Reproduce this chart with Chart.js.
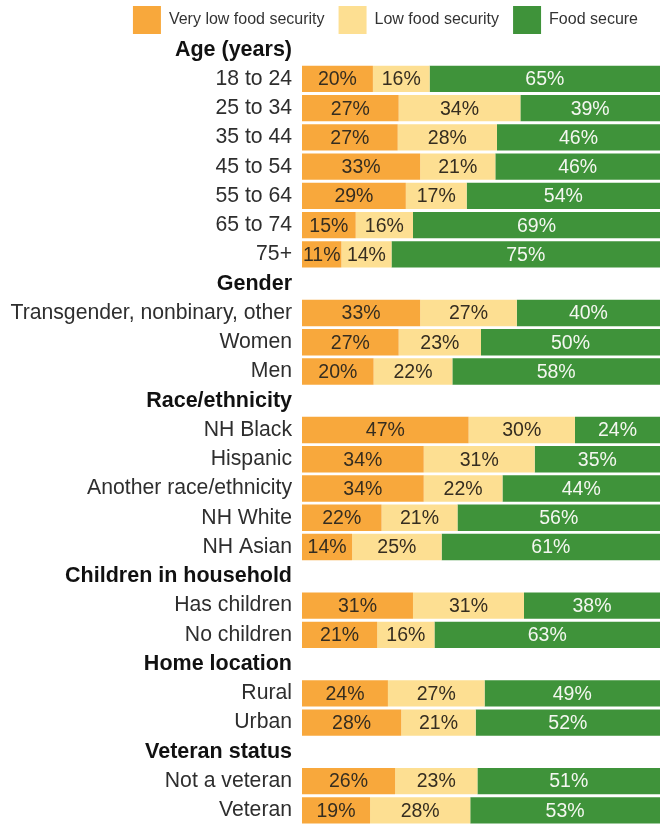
<!DOCTYPE html>
<html>
<head>
<meta charset="utf-8">
<script src="https://cdn.jsdelivr.net/npm/chart.js@4.4.1/dist/chart.umd.min.js"></script>
<style>
  html, body { margin: 0; padding: 0; background: #fff; }
  #wrap { width: 660px; height: 825px; }
</style>
</head>
<body>
<div id="wrap"><canvas id="foodChart"></canvas></div>
<script>
// Row labels (section headers have no bars)
const rowLabels = [
    'Age (years)', '18 to 24', '25 to 34', '35 to 44', '45 to 54', '55 to 64', '65 to 74', '75+',
    'Gender', 'Transgender, nonbinary, other', 'Women', 'Men',
    'Race/ethnicity', 'NH Black', 'Hispanic', 'Another race/ethnicity', 'NH White', 'NH Asian',
    'Children in household', 'Has children', 'No children',
    'Home location', 'Rural', 'Urban',
    'Veteran status', 'Not a veteran', 'Veteran'
];
const headerRows = ['Age (years)', 'Gender', 'Race/ethnicity', 'Children in household', 'Home location', 'Veteran status'];

const seriesNames = ['Very low food security', 'Low food security', 'Food secure'];
const veryLow = [null, 20, 27, 27, 33, 29, 15, 11, null, 33, 27, 20, null, 47, 34, 34, 22, 14, null, 31, 21, null, 24, 28, null, 26, 19];
const low     = [null, 16, 34, 28, 21, 17, 16, 14, null, 27, 23, 22, null, 30, 31, 22, 21, 25, null, 31, 16, null, 27, 21, null, 23, 28];
const secure  = [null, 65, 39, 46, 46, 54, 69, 75, null, 40, 50, 58, null, 24, 35, 44, 56, 61, null, 38, 63, null, 49, 52, null, 51, 53];

const rawSeries = [veryLow, low, secure];
const barColors = ['#f8a83c', '#fddf92', '#3f933a'];
const labelColors = ['#352d20', '#352d20', '#f4f7f0'];
const FONT = '"Liberation Sans", Arial, sans-serif';

// rounded shares don't always add to 100, so scale each row to fill the bar
const rowSums = rowLabels.map((_, i) => rawSeries.reduce((s, arr) => s + (arr[i] || 0), 0));
const toShare = arr => arr.map((v, i) => v == null ? null : v / rowSums[i] * 100);

// draws the percentage text centered in each segment
const segmentLabels = {
    id: 'segmentLabels',
    afterDatasetsDraw(chart) {
        const ctx = chart.ctx;
        ctx.save();
        ctx.font = '19.5px ' + FONT;
        ctx.textAlign = 'center';
        ctx.textBaseline = 'middle';
        chart.data.datasets.forEach((ds, di) => {
            const meta = chart.getDatasetMeta(di);
            meta.data.forEach((bar, i) => {
                const v = rawSeries[di][i];
                if (v == null) return;
                ctx.fillStyle = labelColors[di];
                ctx.fillText(v + '%', (bar.x + bar.base) / 2, bar.y + 1);
            });
        });
        ctx.restore();
    }
};

// trim the legend's reserved height and nudge it in from the right edge
const legendTweak = {
    id: 'legendTweak',
    beforeInit(chart) {
        const origFit = chart.legend.fit;
        chart.legend.fit = function() {
            origFit.bind(chart.legend)();
            this.height -= 9;
        };
    },
    afterLayout(chart) {
        chart.legend.left -= 8;
        chart.legend.right -= 8;
    }
};

const ctx = document.getElementById('foodChart').getContext('2d');
const foodChart = new Chart(ctx, {
    type: 'bar',
    data: {
        labels: rowLabels,
        datasets: rawSeries.map((arr, i) => ({
            label: seriesNames[i],
            data: toShare(arr),
            backgroundColor: barColors[i],
            borderWidth: 0,
            barPercentage: 0.9,
            categoryPercentage: 1.0
        }))
    },
    options: {
        indexAxis: 'y',
        responsive: true,
        maintainAspectRatio: false,
        animation: false,
        layout: { padding: { left: 0, right: 0, top: -8, bottom: 0 } },
        plugins: {
            legend: {
                position: 'top',
                align: 'end',
                labels: {
                    boxWidth: 28,
                    boxHeight: 28,
                    padding: 14,
                    color: '#333',
                    font: { size: 16, family: FONT }
                }
            },
            tooltip: { enabled: false }
        },
        scales: {
            x: {
                stacked: true,
                min: 0,
                max: 100,
                display: false
            },
            y: {
                stacked: true,
                afterFit: function(scale) {
                    scale.width = 302;
                    scale.paddingTop = 0;
                    scale.paddingBottom = 0;
                },
                grid: { display: false, drawTicks: false },
                border: { display: false },
                ticks: {
                    autoSkip: false,
                    padding: 10,
                    color: function(c) {
                        return headerRows.includes(rowLabels[c.index]) ? '#111' : '#2e2e2e';
                    },
                    font: function(c) {
                        const isHeader = headerRows.includes(rowLabels[c.index]);
                        return {
                            size: isHeader ? 21.5 : 21.2,
                            weight: isHeader ? 'bold' : 'normal',
                            family: FONT
                        };
                    }
                }
            }
        }
    },
    plugins: [segmentLabels, legendTweak]
});
</script>
</body>
</html>
